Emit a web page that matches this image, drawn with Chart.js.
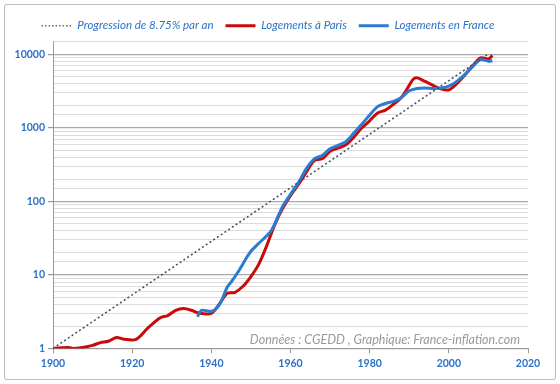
<!DOCTYPE html>
<html>
<head>
<meta charset="utf-8">
<script src="https://cdn.jsdelivr.net/npm/chart.js@4/dist/chart.umd.min.js"></script>
<style>
  body { margin: 0; background: #fff; }
  #wrap { position: relative; width: 560px; height: 384px; }
  #frame { position: absolute; left: 4px; top: 4px; width: 550px; height: 374px;
           border: 1px solid #bdbdbd; border-radius: 3px; }
  canvas { position: absolute; left: 0; top: 0; }
</style>
</head>
<body>
<div id="wrap">
  <div id="frame"></div>
  <canvas id="chart" width="560" height="384"></canvas>
</div>
<script>
// --- data (year, index with 1900 = 1) ---
const progYears = [1900, 2010];
const progValues = [1, 10170];

const parisYears = [1900, 1902, 1904, 1905, 1907, 1910, 1912, 1914, 1916, 1918, 1921, 1924, 1927, 1929, 1931, 1933,
  1935, 1937, 1940, 1942, 1944, 1946, 1948, 1950, 1952, 1954, 1956, 1958, 1960, 1962, 1964, 1966, 1968,
  1970, 1972, 1974, 1976, 1978, 1980, 1982, 1984, 1986, 1988, 1990, 1991, 1992, 1994, 1996, 1998, 2000,
  2002, 2004, 2006, 2008, 2010, 2011];
const parisValues = [1.0, 1.02, 1.03, 1.0, 1.02, 1.1, 1.2, 1.25, 1.41, 1.33, 1.33, 1.9, 2.6, 2.8, 3.3, 3.5,
  3.3, 3.0, 3.0, 4.0, 5.6, 5.8, 7.0, 9.5, 14, 25, 48, 80, 120, 170, 250, 360, 380,
  480, 530, 590, 750, 1000, 1250, 1600, 1750, 2100, 2600, 3800, 4600, 4800, 4300, 3800, 3400, 3300,
  4000, 5200, 7000, 9000, 8700, 9700];

const franceYears = [1936.5, 1937.5, 1940, 1942, 1944, 1945, 1947, 1949, 1950, 1952, 1955, 1957, 1958, 1960,
  1962, 1964, 1966, 1968, 1970, 1972, 1974, 1976, 1978, 1980, 1982, 1984, 1986, 1988, 1990, 1992, 1994,
  1996, 1998, 2000, 2002, 2004, 2006, 2008, 2010, 2011];
const franceValues = [2.7, 3.3, 3.2, 3.9, 6.8, 8.0, 11.5, 17.5, 21, 27, 39, 65, 85, 125,
  180, 280, 380, 420, 520, 580, 650, 850, 1120, 1500, 1950, 2150, 2300, 2600, 3200, 3450, 3500,
  3450, 3500, 3700, 4300, 5300, 6800, 8500, 8100, 8200];

const xTicks = [1900, 1920, 1940, 1960, 1980, 2000, 2020];
const yTicks = [1, 10, 100, 1000, 10000];

const blueText = '#2a72c8';
const toPoints = (xs, ys) => xs.map((x, i) => ({ x: x, y: ys[i] }));
const isMajor = v => yTicks.includes(v);

// credit line in the lower right of the plot
const creditPlugin = {
  id: 'credit',
  afterDraw(chart) {
    const ctx = chart.ctx;
    const a = chart.chartArea;
    ctx.save();
    ctx.font = 'italic 12.5px Lato';
    ctx.fillStyle = '#9a9a9a';
    ctx.textAlign = 'right';
    ctx.fillText('Données : CGEDD , Graphique: France-inflation.com', a.right - 8, a.bottom - 8);
    ctx.restore();
  }
};

new Chart(document.getElementById('chart'), {
  type: 'line',
  data: {
    datasets: [
      {
        label: 'Progression de 8.75% par an',
        data: toPoints(progYears, progValues),
        borderColor: '#44546a',
        borderWidth: 1.6,
        borderDash: [2, 2.5],
        pointRadius: 0
      },
      {
        label: 'Logements en France',
        data: toPoints(franceYears, franceValues),
        borderColor: '#2b7bd0',
        borderWidth: 3,
        pointRadius: 0,
        tension: 0.3
      },
      {
        label: 'Logements à Paris',
        data: toPoints(parisYears, parisValues),
        borderColor: '#c80a0a',
        borderWidth: 3,
        pointRadius: 0,
        tension: 0.3
      }
    ]
  },
  options: {
    responsive: false,
    animation: false,
    layout: { padding: { left: 8, right: 32, top: 8, bottom: 10 } },
    plugins: {
      tooltip: { enabled: false },
      legend: {
        position: 'top',
        labels: {
          usePointStyle: true,
          pointStyle: 'line',
          pointStyleWidth: 30,
          boxHeight: 6,
          padding: 12,
          color: blueText,
          font: { family: 'Lato', style: 'italic', size: 11.5 },
          generateLabels: chart => {
            const items = Chart.defaults.plugins.legend.labels.generateLabels(chart);
            items.forEach(it => {
              if (it.datasetIndex === 0) {
                it.lineDash = [1.5, 2];
                it.lineWidth = 1.5;
                it.strokeStyle = '#5a6a80';
              }
            });
            return items;
          },
          sort: (a, b) => [0, 2, 1][a.datasetIndex] - [0, 2, 1][b.datasetIndex]
        }
      }
    },
    scales: {
      x: {
        type: 'linear',
        min: 1900,
        max: 2020,
        afterBuildTicks: s => { s.ticks = xTicks.map(v => ({ value: v })); },
        border: { color: '#9a9a9a' },
        grid: { drawOnChartArea: false, tickLength: 5, color: '#9a9a9a' },
        ticks: {
          color: blueText,
          font: { family: 'Lato', weight: 'bold', size: 10.5 },
          padding: 4,
          maxRotation: 0,
          callback: v => String(v)
        }
      },
      y: {
        type: 'logarithmic',
        min: 1,
        max: 15000,
        afterFit: s => { s.width = 45; },
        border: { color: '#9a9a9a' },
        grid: {
          color: c => c.tick && isMajor(c.tick.value) ? '#a8a8a8' : '#dcdcdc',
          tickColor: c => c.tick && isMajor(c.tick.value) ? '#9a9a9a' : 'rgba(0,0,0,0)',
          tickLength: 5,
          lineWidth: c => c.tick && isMajor(c.tick.value) ? 1.2 : 1
        },
        ticks: {
          color: blueText,
          font: { family: 'Lato', weight: 'bold', size: 10.5 },
          padding: 3,
          autoSkip: false,
          callback: v => isMajor(v) ? String(v) : ''
        }
      }
    }
  },
  plugins: [creditPlugin]
});
</script>
</body>
</html>
